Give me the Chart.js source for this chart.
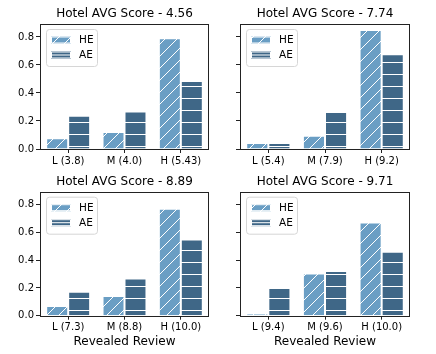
<!DOCTYPE html>
<html>
<head>
<meta charset="utf-8">
<script src="https://cdn.jsdelivr.net/npm/chart.js@4.4.0/dist/chart.umd.min.js"></script>
<style>
  body { margin: 0; background: #fff; }
  canvas { position: absolute; }
</style>
</head>
<body>
<canvas id="p0" width="218" height="170" style="left:0;top:0"></canvas>
<canvas id="p1" width="218" height="170" style="left:218px;top:0"></canvas>
<canvas id="p2" width="218" height="184" style="left:0;top:170px"></canvas>
<canvas id="p3" width="218" height="184" style="left:218px;top:170px"></canvas>
<script>
// values
var hotelScores = ['4.56', '7.74', '8.89', '9.71'];
var reviewLabels = [
  ['L (3.8)', 'M (4.0)', 'H (5.43)'],
  ['L (5.4)', 'M (7.9)', 'H (9.2)'],
  ['L (7.3)', 'M (8.8)', 'H (10.0)'],
  ['L (9.4)', 'M (9.6)', 'H (10.0)']
];
var heValues = [
  [0.077, 0.122, 0.790],
  [0.043, 0.094, 0.850],
  [0.070, 0.142, 0.769],
  [0.012, 0.303, 0.670]
];
var aeValues = [
  [0.238, 0.267, 0.485],
  [0.043, 0.264, 0.677],
  [0.173, 0.267, 0.548],
  [0.200, 0.322, 0.461]
];
var yTicks = [0, 0.2, 0.4, 0.6, 0.8];
var yMax = 0.8925;

var HE_COLOR = '#6a9ec4';
var AE_COLOR = '#3f6787';
var FONT = 'DejaVu Sans';

// hatch patterns, like matplotlib '/' and '-'
function diagPattern(ctx) {
  var t = document.createElement('canvas');
  t.width = 12; t.height = 12;
  var c = t.getContext('2d');
  c.fillStyle = HE_COLOR;
  c.fillRect(0, 0, 12, 12);
  c.strokeStyle = '#fff';
  c.lineWidth = 1;
  c.beginPath();
  c.moveTo(-1, 13); c.lineTo(13, -1);
  c.moveTo(-13, 13); c.lineTo(1, -1);
  c.moveTo(11, 13); c.lineTo(25, -1);
  c.stroke();
  return ctx.createPattern(t, 'repeat');
}
function horizPattern(ctx, phase) {
  var t = document.createElement('canvas');
  t.width = 12; t.height = 12;
  var c = t.getContext('2d');
  c.fillStyle = AE_COLOR;
  c.fillRect(0, 0, 12, 12);
  c.fillStyle = '#fff';
  c.fillRect(0, phase, 12, 1);
  return ctx.createPattern(t, 'repeat');
}

var framePlugin = {
  id: 'frame',
  afterDatasetsDraw: function(chart) {
    var a = chart.chartArea, ctx = chart.ctx;
    ctx.save();
    // legend box
    var bx = a.left + 6, by = a.top + 5, bw = 51, bh = 37, r = 3;
    ctx.beginPath();
    ctx.roundRect(bx + 0.5, by + 0.5, bw, bh, r);
    ctx.fillStyle = 'rgba(255,255,255,0.85)';
    ctx.fill();
    ctx.strokeStyle = '#d6d6d6';
    ctx.lineWidth = 1;
    ctx.stroke();
    var items = chart.data.datasets;
    for (var i = 0; i < items.length; i++) {
      var py = by + 7.5 + i * 15;
      var px = bx + 5;
      ctx.fillStyle = items[i].backgroundColor;
      ctx.fillRect(px, py, 20, 7);
      if (i === 1) {
        ctx.fillStyle = AE_COLOR;
        ctx.fillRect(px, py, 20, 7);
        ctx.fillStyle = '#fff';
        ctx.fillRect(px, py + 3, 20, 1);
      }
      ctx.strokeStyle = '#fff';
      ctx.strokeRect(px + 0.5, py + 0.5, 19, 6);
      ctx.fillStyle = '#000';
      ctx.font = '10.5px "' + FONT + '"';
      ctx.textBaseline = 'middle';
      ctx.textAlign = 'left';
      ctx.fillText(items[i].label, bx + 33, py + 3.8);
    }
    // axes frame
    ctx.strokeStyle = '#222';
    ctx.lineWidth = 1;
    ctx.strokeRect(Math.round(a.left) + 0.5, Math.round(a.top) + 0.5,
      Math.round(a.right - a.left) - 1, Math.round(a.bottom - a.top));
    ctx.restore();
  }
};

var panels = [
  { yw: 40, xh: 21, padR: 9, tPad: { top: 7, bottom: 2.6 }, yLabels: true, xTitle: false, phase: 2 },
  { yw: 22, xh: 21, padR: 26, tPad: { top: 7, bottom: 2.6 }, yLabels: false, xTitle: false, phase: 2 },
  { yw: 40, xh: 38.3, padR: 9, tPad: { top: 5, bottom: 2.3 }, yLabels: true, xTitle: true, phase: 8 },
  { yw: 22, xh: 38.3, padR: 26, tPad: { top: 5, bottom: 2.3 }, yLabels: false, xTitle: true, phase: 8 }
];

panels.forEach(function(p, k) {
  var ctx = document.getElementById('p' + k).getContext('2d');
  new Chart(ctx, {
    type: 'bar',
    data: {
      labels: reviewLabels[k],
      datasets: [
        { label: 'HE', data: heValues[k], backgroundColor: diagPattern(ctx),
          borderColor: '#fff', borderWidth: 1, borderSkipped: 'start' },
        { label: 'AE', data: aeValues[k], backgroundColor: horizPattern(ctx, p.phase),
          borderColor: '#fff', borderWidth: 1, borderSkipped: 'start' }
      ]
    },
    options: {
      responsive: false,
      animation: false,
      layout: { padding: { left: 0, right: p.padR, top: 0, bottom: 0 } },
      datasets: { bar: { categoryPercentage: 0.78, barPercentage: 1.0 } },
      plugins: {
        legend: { display: false },
        tooltip: { enabled: false },
        title: {
          display: true,
          text: 'Hotel AVG Score - ' + hotelScores[k],
          fullSize: false,
          color: '#000',
          font: { family: FONT, size: 12, weight: 'normal' },
          padding: p.tPad
        }
      },
      scales: {
        x: {
          offset: true,
          border: { display: false },
          grid: { offset: false, drawOnChartArea: false, drawTicks: true, tickLength: 4, color: '#222' },
          ticks: { color: '#000', padding: 2, maxRotation: 0, font: { family: FONT, size: 10 } },
          title: { display: p.xTitle, text: 'Revealed Review', color: '#000',
            font: { family: FONT, size: 12 }, padding: { top: 0, bottom: 4.8 } },
          afterFit: function(s) { s.height = p.xh; }
        },
        y: {
          min: 0,
          max: yMax,
          border: { display: false },
          grid: { drawOnChartArea: false, drawTicks: true, tickLength: 4, color: '#222' },
          afterBuildTicks: function(s) { s.ticks = yTicks.map(function(v) { return { value: v }; }); },
          ticks: {
            display: p.yLabels,
            color: '#000',
            padding: 2,
            font: { family: FONT, size: 10 },
            callback: function(v) { return v.toFixed(1); }
          },
          afterFit: function(s) { s.width = p.yw; }
        }
      }
    },
    plugins: [framePlugin]
  });
});
</script>
</body>
</html>
